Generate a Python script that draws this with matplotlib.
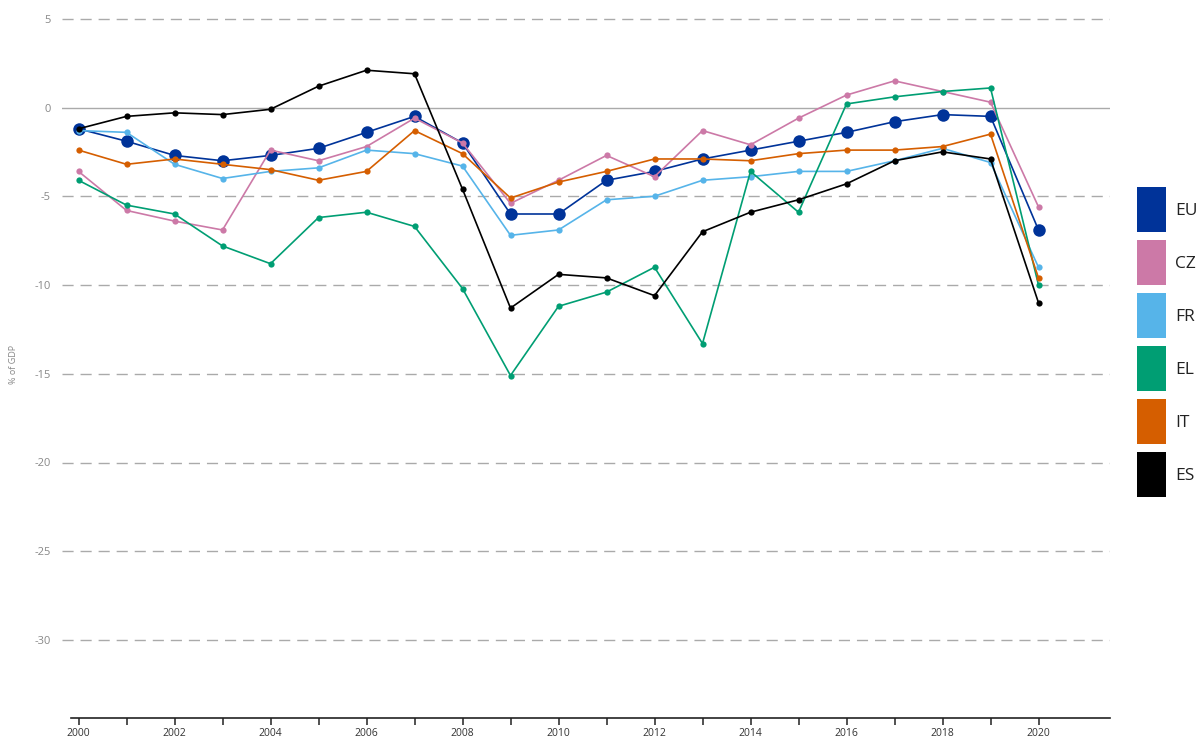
import matplotlib

matplotlib.use("Agg")

import matplotlib.pyplot as plt
from matplotlib.patches import Rectangle
import numpy as np

plt.rcParams["font.family"] = ["Open Sans", "DejaVu Sans"]

years = np.arange(2000, 2021)

eu = [-1.2, -1.9, -2.7, -3.0, -2.7, -2.3, -1.4, -0.5, -2.0, -6.0, -6.0,
      -4.1, -3.6, -2.9, -2.4, -1.9, -1.4, -0.8, -0.4, -0.5, -6.9]
cz = [-3.6, -5.8, -6.4, -6.9, -2.4, -3.0, -2.2, -0.6, -2.0, -5.4, -4.1,
      -2.7, -3.9, -1.3, -2.1, -0.6, 0.7, 1.5, 0.9, 0.3, -5.6]
fr = [-1.3, -1.4, -3.2, -4.0, -3.6, -3.4, -2.4, -2.6, -3.3, -7.2, -6.9,
      -5.2, -5.0, -4.1, -3.9, -3.6, -3.6, -3.0, -2.3, -3.1, -9.0]
el = [-4.1, -5.5, -6.0, -7.8, -8.8, -6.2, -5.9, -6.7, -10.2, -15.1, -11.2,
      -10.4, -9.0, -13.3, -3.6, -5.9, 0.2, 0.6, 0.9, 1.1, -10.0]
it = [-2.4, -3.2, -2.9, -3.2, -3.5, -4.1, -3.6, -1.3, -2.6, -5.1, -4.2,
      -3.6, -2.9, -2.9, -3.0, -2.6, -2.4, -2.4, -2.2, -1.5, -9.6]
es = [-1.2, -0.5, -0.3, -0.4, -0.1, 1.2, 2.1, 1.9, -4.6, -11.3, -9.4,
      -9.6, -10.6, -7.0, -5.9, -5.2, -4.3, -3.0, -2.5, -2.9, -11.0]

names = ["EU", "CZ", "FR", "EL", "IT", "ES"]
series = [eu, cz, fr, el, it, es]
colors = ["#003399", "#CC79A7", "#56B4E9", "#009E73", "#D55E00", "#000000"]

yticks = [5, 0, -5, -10, -15, -20, -25, -30]

W, H = 1202, 744
fig = plt.figure(figsize=(W / 100, H / 100), dpi=100)
# axes box in pixels: left 62, right 1110, top 10, bottom 718
ax = fig.add_axes([62 / W, 1 - 718 / H, (1110 - 62) / W, (718 - 10) / H])

px_year = 48.0
px_unit = 17.75
ax.set_xlim(2000 - (78.5 - 62) / px_year, 2000 + (1110 - 78.5) / px_year)
ax.set_ylim(-(718 - 107.5) / px_unit, (107.5 - 10) / px_unit)

for v in yticks:
    if v == 0:
        ax.axhline(v, color="#aaaaaa", lw=1.0, zorder=0)
    else:
        ax.axhline(v, color="#aaaaaa", lw=1.0, ls=(0, (8, 5)), zorder=0)

for name, vals, col in zip(names, series, colors):
    ms = 9 if name == "EU" else 4.5
    ax.plot(years, vals, color=col, lw=1.2, marker="o", ms=ms,
            markeredgewidth=0, label=name, zorder=2)

for side in ["top", "right", "left"]:
    ax.spines[side].set_visible(False)
ax.spines["bottom"].set_color("#222222")
ax.spines["bottom"].set_linewidth(1.2)
ax.spines["bottom"].set_bounds(1999.85, ax.get_xlim()[1])

ax.set_xticks(years)
ax.set_xticklabels([str(y) if y % 2 == 0 else "" for y in years])
ax.tick_params(axis="x", direction="out", length=5, width=1.1, color="#222222",
               labelsize=7.5, labelcolor="#333333", pad=2)
ax.set_yticks(yticks)
ax.set_yticklabels([str(v) for v in yticks])
ax.tick_params(axis="y", length=0, labelsize=8, labelcolor="#888888", pad=8)
ax.set_ylabel("% of GDP", fontsize=6.5, color="#888888", labelpad=12)

# legend: tall colour blocks to the right of the plot
for i, (name, col) in enumerate(zip(names, colors)):
    top = 187 + i * 53
    fig.add_artist(Rectangle((1137 / W, 1 - (top + 45) / H), 29 / W, 45 / H,
                             transform=fig.transFigure, facecolor=col,
                             edgecolor="none"))
    fig.text(1175 / W, 1 - (top + 24) / H, name, fontsize=12.5,
             color="#222222", va="center", ha="left")

fig.savefig("out.png", dpi=100, facecolor="white")
